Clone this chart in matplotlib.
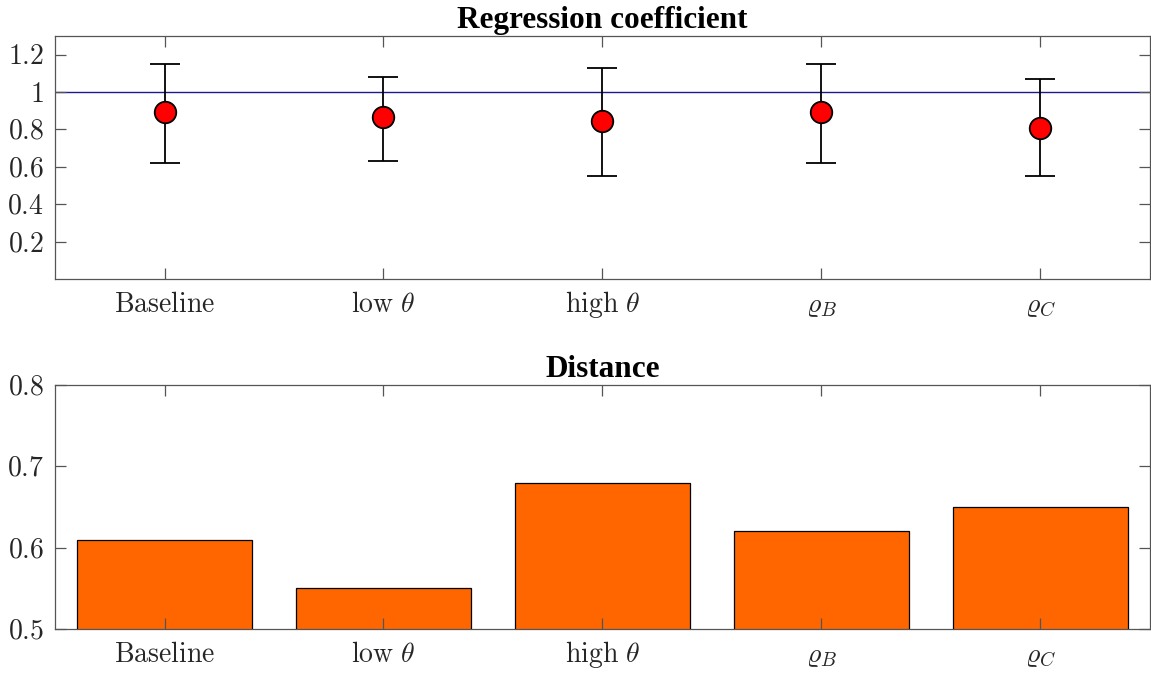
import numpy as np
import matplotlib
matplotlib.use('Agg')
import matplotlib.pyplot as plt
from matplotlib.ticker import FuncFormatter

plt.rcParams['mathtext.fontset'] = 'cm'
plt.rcParams['font.family'] = 'Liberation Serif'

categories = [r'$\mathrm{Baseline}$', r'$\mathrm{low}\ \theta$', r'$\mathrm{high}\ \theta$',
              r'$\varrho_B$', r'$\varrho_C$']
coef = [0.895, 0.865, 0.845, 0.895, 0.81]
coef_low = [0.62, 0.63, 0.55, 0.62, 0.55]
coef_high = [1.15, 1.08, 1.13, 1.15, 1.07]
distance = [0.61, 0.55, 0.68, 0.62, 0.65]

spine_col = '#555555'
text_col = '#262626'


def style_axes(ax):
    for s in ax.spines.values():
        s.set_color(spine_col)
        s.set_linewidth(0.9)
    ax.tick_params(direction='in', length=8, width=0.9, color=spine_col,
                   top=True, right=True, labelsize=20, labelcolor=text_col)
    ax.tick_params(axis='y', pad=8)
    ax.tick_params(axis='x', pad=24)
    ax.yaxis.set_major_formatter(FuncFormatter(lambda v, p: r'$%g$' % round(v, 3)))
    # keep text baselines aligned like the original
    for lbl in ax.get_xticklabels():
        lbl.set_verticalalignment('baseline')


def main():
    fig = plt.figure(figsize=(11.51, 6.75), dpi=100)
    x = np.arange(1, len(categories) + 1)

    # top: regression coefficient with error bars
    ax1 = fig.add_axes([0.0478, 0.5867, 0.9512, 0.36])
    ax1.axhline(1, color='#1a1a8c', linewidth=1.0, zorder=1)
    yerr = [np.array(coef) - np.array(coef_low), np.array(coef_high) - np.array(coef)]
    ax1.errorbar(x, coef, yerr=yerr, fmt='o', color='black', ecolor='black',
                 elinewidth=1.3, capsize=11, capthick=1.3,
                 markerfacecolor='red', markeredgecolor='black',
                 markeredgewidth=1.3, markersize=15.5, zorder=3)
    ax1.set_xlim(0.5, 5.5)
    ax1.set_ylim(0, 1.3)
    ax1.set_yticks([0.2, 0.4, 0.6, 0.8, 1.0, 1.2])
    ax1.set_xticks(x)
    ax1.set_xticklabels(categories)
    style_axes(ax1)
    ax1.set_title('Regression coefficient', fontsize=22.5, fontweight='bold', pad=6)

    # bottom: distance bars
    ax2 = fig.add_axes([0.0478, 0.0681, 0.9512, 0.3615])
    ax2.bar(x, distance, width=0.8, color='#ff6600', edgecolor='black', linewidth=0.9,
            zorder=2)
    ax2.set_xlim(0.5, 5.5)
    ax2.set_ylim(0.5, 0.8)
    ax2.set_yticks([0.5, 0.6, 0.7, 0.8])
    ax2.set_xticks(x)
    ax2.set_xticklabels(categories)
    style_axes(ax2)
    ax2.set_axisbelow(False)
    ax2.set_title('Distance', fontsize=22.5, fontweight='bold', pad=6)

    fig.savefig('out.png', dpi=100)


if __name__ == "__main__":
    main()
